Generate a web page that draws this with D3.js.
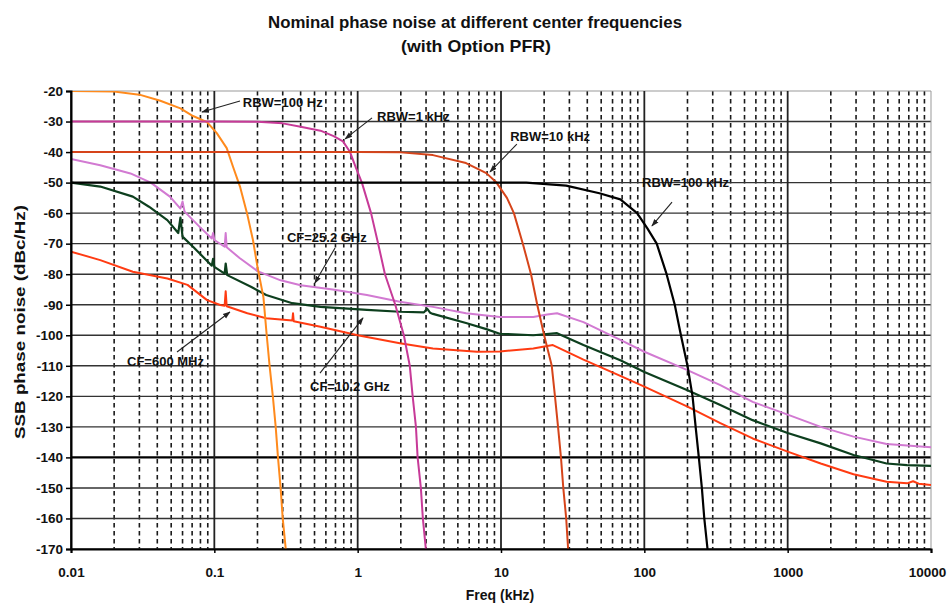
<!DOCTYPE html>
<html>
<head>
<meta charset="utf-8">
<script src="https://cdn.jsdelivr.net/npm/d3@7"></script>
<style>
  html, body { margin: 0; padding: 0; background: #fff; }
  svg { display: block; font-family: "Liberation Sans", Arial, sans-serif; }
</style>
</head>
<body>
<div id="chart"></div>
<script>
(function() {
    'use strict';

    // frequency (kHz), SSB phase noise (dBc/Hz)
    const rbw100Hz = [[0.01,-20],[0.02,-20.2],[0.03,-21.2],[0.042,-23.2],[0.058,-25.7],[0.071,-28.2],[0.089,-30.2],
        [0.104,-33.8],[0.122,-38.7],[0.135,-44.8],[0.151,-51.3],[0.169,-60],[0.186,-68.8],[0.2,-77.6],[0.22,-87.5],
        [0.232,-100],[0.243,-110],[0.256,-120],[0.268,-130],[0.278,-140],[0.29,-150],[0.30,-160],[0.315,-170]];

    const rbw1kHz = [[0.01,-30],[0.1,-30],[0.2,-30.1],[0.3,-30.6],[0.4,-31.7],[0.55,-33],[0.68,-34.8],[0.79,-36.5],
        [0.885,-40],[0.97,-45],[1.07,-50],[1.24,-60],[1.39,-70],[1.55,-80],[1.83,-90],[2.1,-100],[2.31,-110],
        [2.42,-120],[2.55,-130],[2.62,-140],[2.76,-150],[2.85,-160],[2.99,-170]];

    const rbw10kHz = [[0.01,-40],[1,-40],[2,-40.1],[3.35,-41],[5.7,-43.6],[7.9,-46.9],[9.3,-50],[11,-55],[12.3,-60],
        [14.2,-70],[16.2,-80],[17.9,-90],[20,-100],[22.6,-110],[23.8,-120],[25,-130],[26.2,-140],[27.2,-150],
        [28.5,-160],[29.4,-170]];

    const rbw100kHz = [[0.01,-50],[15,-50],[28.5,-51],[48.6,-53.5],[68,-55.5],[89,-60],[105,-65],[122,-70],[143,-80],
        [163,-90],[180,-100],[200,-110],[217,-120],[228,-130],[240,-140],[252,-150],[262,-160],[276,-170]];

    const cf25GHz = [[0.01,-42.3],[0.016,-44.3],[0.026,-47],[0.036,-50],[0.049,-54.6],[0.058,-58.5],[0.06,-56.2],
        [0.062,-59.5],[0.079,-64.5],[0.096,-68.3],[0.098,-66.5],[0.1,-68.8],[0.118,-71],[0.12,-66.5],[0.122,-71.2],
        [0.15,-74.7],[0.2,-79],[0.29,-82],[0.4,-83.6],[0.67,-85],[1.16,-86.8],[1.97,-89],[3.35,-90.7],[5.7,-92.8],
        [9.8,-94],[16.8,-94],[21,-93.2],[24.6,-92.8],[37.6,-95.7],[68,-101.5],[100,-105.4],[200,-111.4],
        [339,-116.3],[570,-121.8],[1000,-126],[1700,-130],[2880,-133.2],[4900,-135.6],[10000,-136.7]];

    const cf10GHz = [[0.01,-50],[0.016,-51.3],[0.027,-54.6],[0.035,-57.9],[0.047,-62.3],[0.056,-66.5],[0.058,-61.5],
        [0.06,-67.7],[0.071,-71],[0.096,-77.2],[0.098,-75],[0.1,-77.6],[0.118,-79.8],[0.12,-76.5],[0.123,-80.3],
        [0.18,-84.1],[0.23,-86.8],[0.35,-89.5],[0.55,-90.7],[1.16,-91.7],[1.97,-92.3],[2.9,-92.5],[3.05,-91.3],
        [3.2,-92.6],[3.35,-93],[5.7,-96],[7.9,-98],[9.8,-99.5],[16.8,-100],[24.6,-99.3],[37.6,-103.2],[68,-108.2],
        [100,-112],[200,-118],[339,-122.8],[570,-127.8],[1000,-132],[1700,-135.4],[2880,-139.2],[4900,-142],
        [6800,-142.5],[10000,-142.8]];

    const cf600MHz = [[0.01,-72.6],[0.016,-75.4],[0.027,-79.2],[0.047,-81.4],[0.065,-83.5],[0.089,-88.5],[0.11,-90.1],
        [0.118,-90.3],[0.12,-85.6],[0.122,-90.5],[0.17,-92.8],[0.23,-94.4],[0.35,-95.2],[0.354,-92.8],[0.358,-95.4],
        [0.55,-97.2],[1,-100],[1.97,-102.6],[3.35,-104.3],[6.8,-105.4],[9.8,-105.3],[16.8,-104.3],[23,-103.2],
        [37.6,-108],[68,-113.3],[100,-116.8],[200,-123.4],[339,-128.8],[570,-133.8],[1000,-138.1],[1700,-142],
        [2880,-145.5],[4900,-148],[6800,-148.5],[7500,-147.8],[8200,-148.6],[10000,-149]];

    const xTicks = [0.01, 0.1, 1, 10, 100, 1000, 10000];
    const xTickLabels = ['0.01', '0.1', '1', '10', '100', '1000', '10000'];
    const yTicks = [-20, -30, -40, -50, -60, -70, -80, -90, -100, -110, -120, -130, -140, -150, -160, -170];

    const series = [
        { name: 'CF=25.2 GHz', data: cf25GHz, color: '#d27ad2', width: 2 },
        { name: 'CF=10.2 GHz', data: cf10GHz, color: '#0d3f1e', width: 2.2 },
        { name: 'CF=600 MHz', data: cf600MHz, color: '#ff3b12', width: 2 },
        { name: 'RBW=100 Hz', data: rbw100Hz, color: '#ff8a1c', width: 2 },
        { name: 'RBW=1 kHz', data: rbw1kHz, color: '#c73a98', width: 2 },
        { name: 'RBW=10 kHz', data: rbw10kHz, color: '#d6441a', width: 2 },
        { name: 'RBW=100 kHz', data: rbw100kHz, color: '#000000', width: 2.2 }
    ];

    // label text position and arrow (from -> to), in data units
    const annotations = [
        { text: 'RBW=100 Hz', at: [0.158, -25.4], from: [0.151, -23.3], to: [0.082, -26.9] },
        { text: 'RBW=1 kHz', at: [1.365, -29.7], from: [1.26, -28.8], to: [0.817, -35.7] },
        { text: 'RBW=10 kHz', at: [11.6, -36.5], from: [12.9, -37.4], to: [8.38, -46.5] },
        { text: 'RBW=100 kHz', at: [96.4, -51.6], from: [156, -56.4], to: [113, -64.2] },
        { text: 'CF=25.2 GHz', at: [0.321, -69.3], from: [0.695, -71.4], to: [0.503, -82.9] },
        { text: 'CF=600 MHz', at: [0.0246, -110.2], from: [0.0549, -105.5], to: [0.1285, -92.4] },
        { text: 'CF=10.2 GHz', at: [0.465, -118.1], from: [0.546, -112.4], to: [1.09, -94.3] }
    ];

    const W = 949, H = 608;
    const margin = { left: 71, right: 18, top: 91, bottom: 59 };

    const x = d3.scaleLog().domain([0.01, 10000]).range([margin.left, W - margin.right]);
    const y = d3.scaleLinear().domain([-170, -20]).range([H - margin.bottom, margin.top]);

    const svg = d3.select('#chart').append('svg')
        .attr('width', W).attr('height', H);

    svg.append('rect').attr('width', W).attr('height', H).attr('fill', '#fff');

    const defs = svg.append('defs');
    defs.append('clipPath').attr('id', 'plot-clip')
        .append('rect')
        .attr('x', x.range()[0]).attr('y', y.range()[1])
        .attr('width', x.range()[1] - x.range()[0])
        .attr('height', y.range()[0] - y.range()[1]);
    defs.append('marker').attr('id', 'arrow')
        .attr('viewBox', '0 0 10 10').attr('refX', 9).attr('refY', 5)
        .attr('markerWidth', 7).attr('markerHeight', 7).attr('orient', 'auto')
        .append('path').attr('d', 'M0,1.5 L10,5 L0,8.5 Z').attr('fill', '#222');

    // title
    const title = svg.append('g').attr('font-weight', 'bold').attr('fill', '#111')
        .attr('text-anchor', 'middle');
    title.append('text').attr('x', 475).attr('y', 28).attr('font-size', 17)
        .attr('textLength', 414).attr('lengthAdjust', 'spacingAndGlyphs')
        .text('Nominal phase noise at different center frequencies');
    title.append('text').attr('x', 476).attr('y', 52).attr('font-size', 17)
        .attr('textLength', 150).attr('lengthAdjust', 'spacingAndGlyphs')
        .text('(with Option PFR)');

    // grid
    const grid = svg.append('g');
    const minorX = [];
    xTicks.slice(0, -1).forEach(d => {
        for (let k = 2; k <= 9; k++) minorX.push(d * k);
    });
    grid.selectAll('line.minor').data(minorX).enter().append('line')
        .attr('x1', d => x(d)).attr('x2', d => x(d))
        .attr('y1', y(-20)).attr('y2', y(-170))
        .attr('stroke', '#1a1a1a').attr('stroke-width', 1.6)
        .attr('stroke-dasharray', '4.5,3.5');
    grid.selectAll('line.hgrid').data(yTicks).enter().append('line')
        .attr('x1', x(0.01)).attr('x2', x(10000))
        .attr('y1', d => y(d)).attr('y2', d => y(d))
        .attr('stroke', d => d === -20 ? '#999' : (d === -140 ? '#000' : '#333'))
        .attr('stroke-width', d => d === -20 ? 1 : (d === -140 ? 2.2 : 1.4));
    grid.selectAll('line.major').data(xTicks).enter().append('line')
        .attr('x1', d => x(d)).attr('x2', d => x(d))
        .attr('y1', y(-20)).attr('y2', y(-170))
        .attr('stroke', d => d === 10000 ? '#999' : '#222')
        .attr('stroke-width', d => d === 10000 ? 1 : 1.8);

    // curves
    const line = d3.line().x(d => x(d[0])).y(d => y(d[1]));
    svg.append('g').attr('clip-path', 'url(#plot-clip)')
        .selectAll('path').data(series).enter().append('path')
        .attr('d', d => line(d.data))
        .attr('fill', 'none')
        .attr('stroke', d => d.color)
        .attr('stroke-width', d => d.width)
        .attr('stroke-linejoin', 'round');

    // axes
    const xAxis = svg.append('g').attr('transform', `translate(0,${y(-170)})`)
        .call(d3.axisBottom(x).tickValues(xTicks).tickFormat((d, i) => xTickLabels[i])
            .tickSize(4).tickPadding(14));
    const yAxis = svg.append('g').attr('transform', `translate(${x(0.01)},0)`)
        .call(d3.axisLeft(y).tickValues(yTicks).tickFormat(d => d)
            .tickSize(5).tickPadding(3));
    [xAxis, yAxis].forEach(ax => {
        ax.select('.domain').attr('stroke', '#000').attr('stroke-width', 2);
        ax.selectAll('.tick line').attr('stroke', '#000').attr('stroke-width', 1.5);
        ax.selectAll('.tick text').attr('font-size', 13.5).attr('font-weight', 'bold')
            .attr('fill', '#111').attr('font-family', '"Liberation Sans", Arial, sans-serif');
    });
    // keep the last frequency label inside the page
    xAxis.selectAll('.tick text').filter(d => d === 10000).attr('dx', -4);

    // axis titles
    svg.append('text').attr('x', 500).attr('y', 600)
        .attr('text-anchor', 'middle').attr('font-size', 14).attr('font-weight', 'bold')
        .attr('fill', '#111').text('Freq (kHz)');
    svg.append('text').attr('transform', 'translate(25,322) rotate(-90)')
        .attr('text-anchor', 'middle').attr('font-size', 15).attr('font-weight', 'bold')
        .attr('fill', '#111').attr('textLength', 234).attr('lengthAdjust', 'spacingAndGlyphs')
        .text('SSB phase noise (dBc/Hz)');

    // annotations
    const ann = svg.append('g');
    ann.selectAll('line').data(annotations).enter().append('line')
        .attr('x1', d => x(d.from[0])).attr('y1', d => y(d.from[1]))
        .attr('x2', d => x(d.to[0])).attr('y2', d => y(d.to[1]))
        .attr('stroke', '#222').attr('stroke-width', 1.1)
        .attr('marker-end', 'url(#arrow)');
    ann.selectAll('text').data(annotations).enter().append('text')
        .attr('x', d => x(d.at[0])).attr('y', d => y(d.at[1]))
        .attr('font-size', 13).attr('font-weight', 'bold').attr('fill', '#111')
        .text(d => d.text);
})();
</script>
</body>
</html>
